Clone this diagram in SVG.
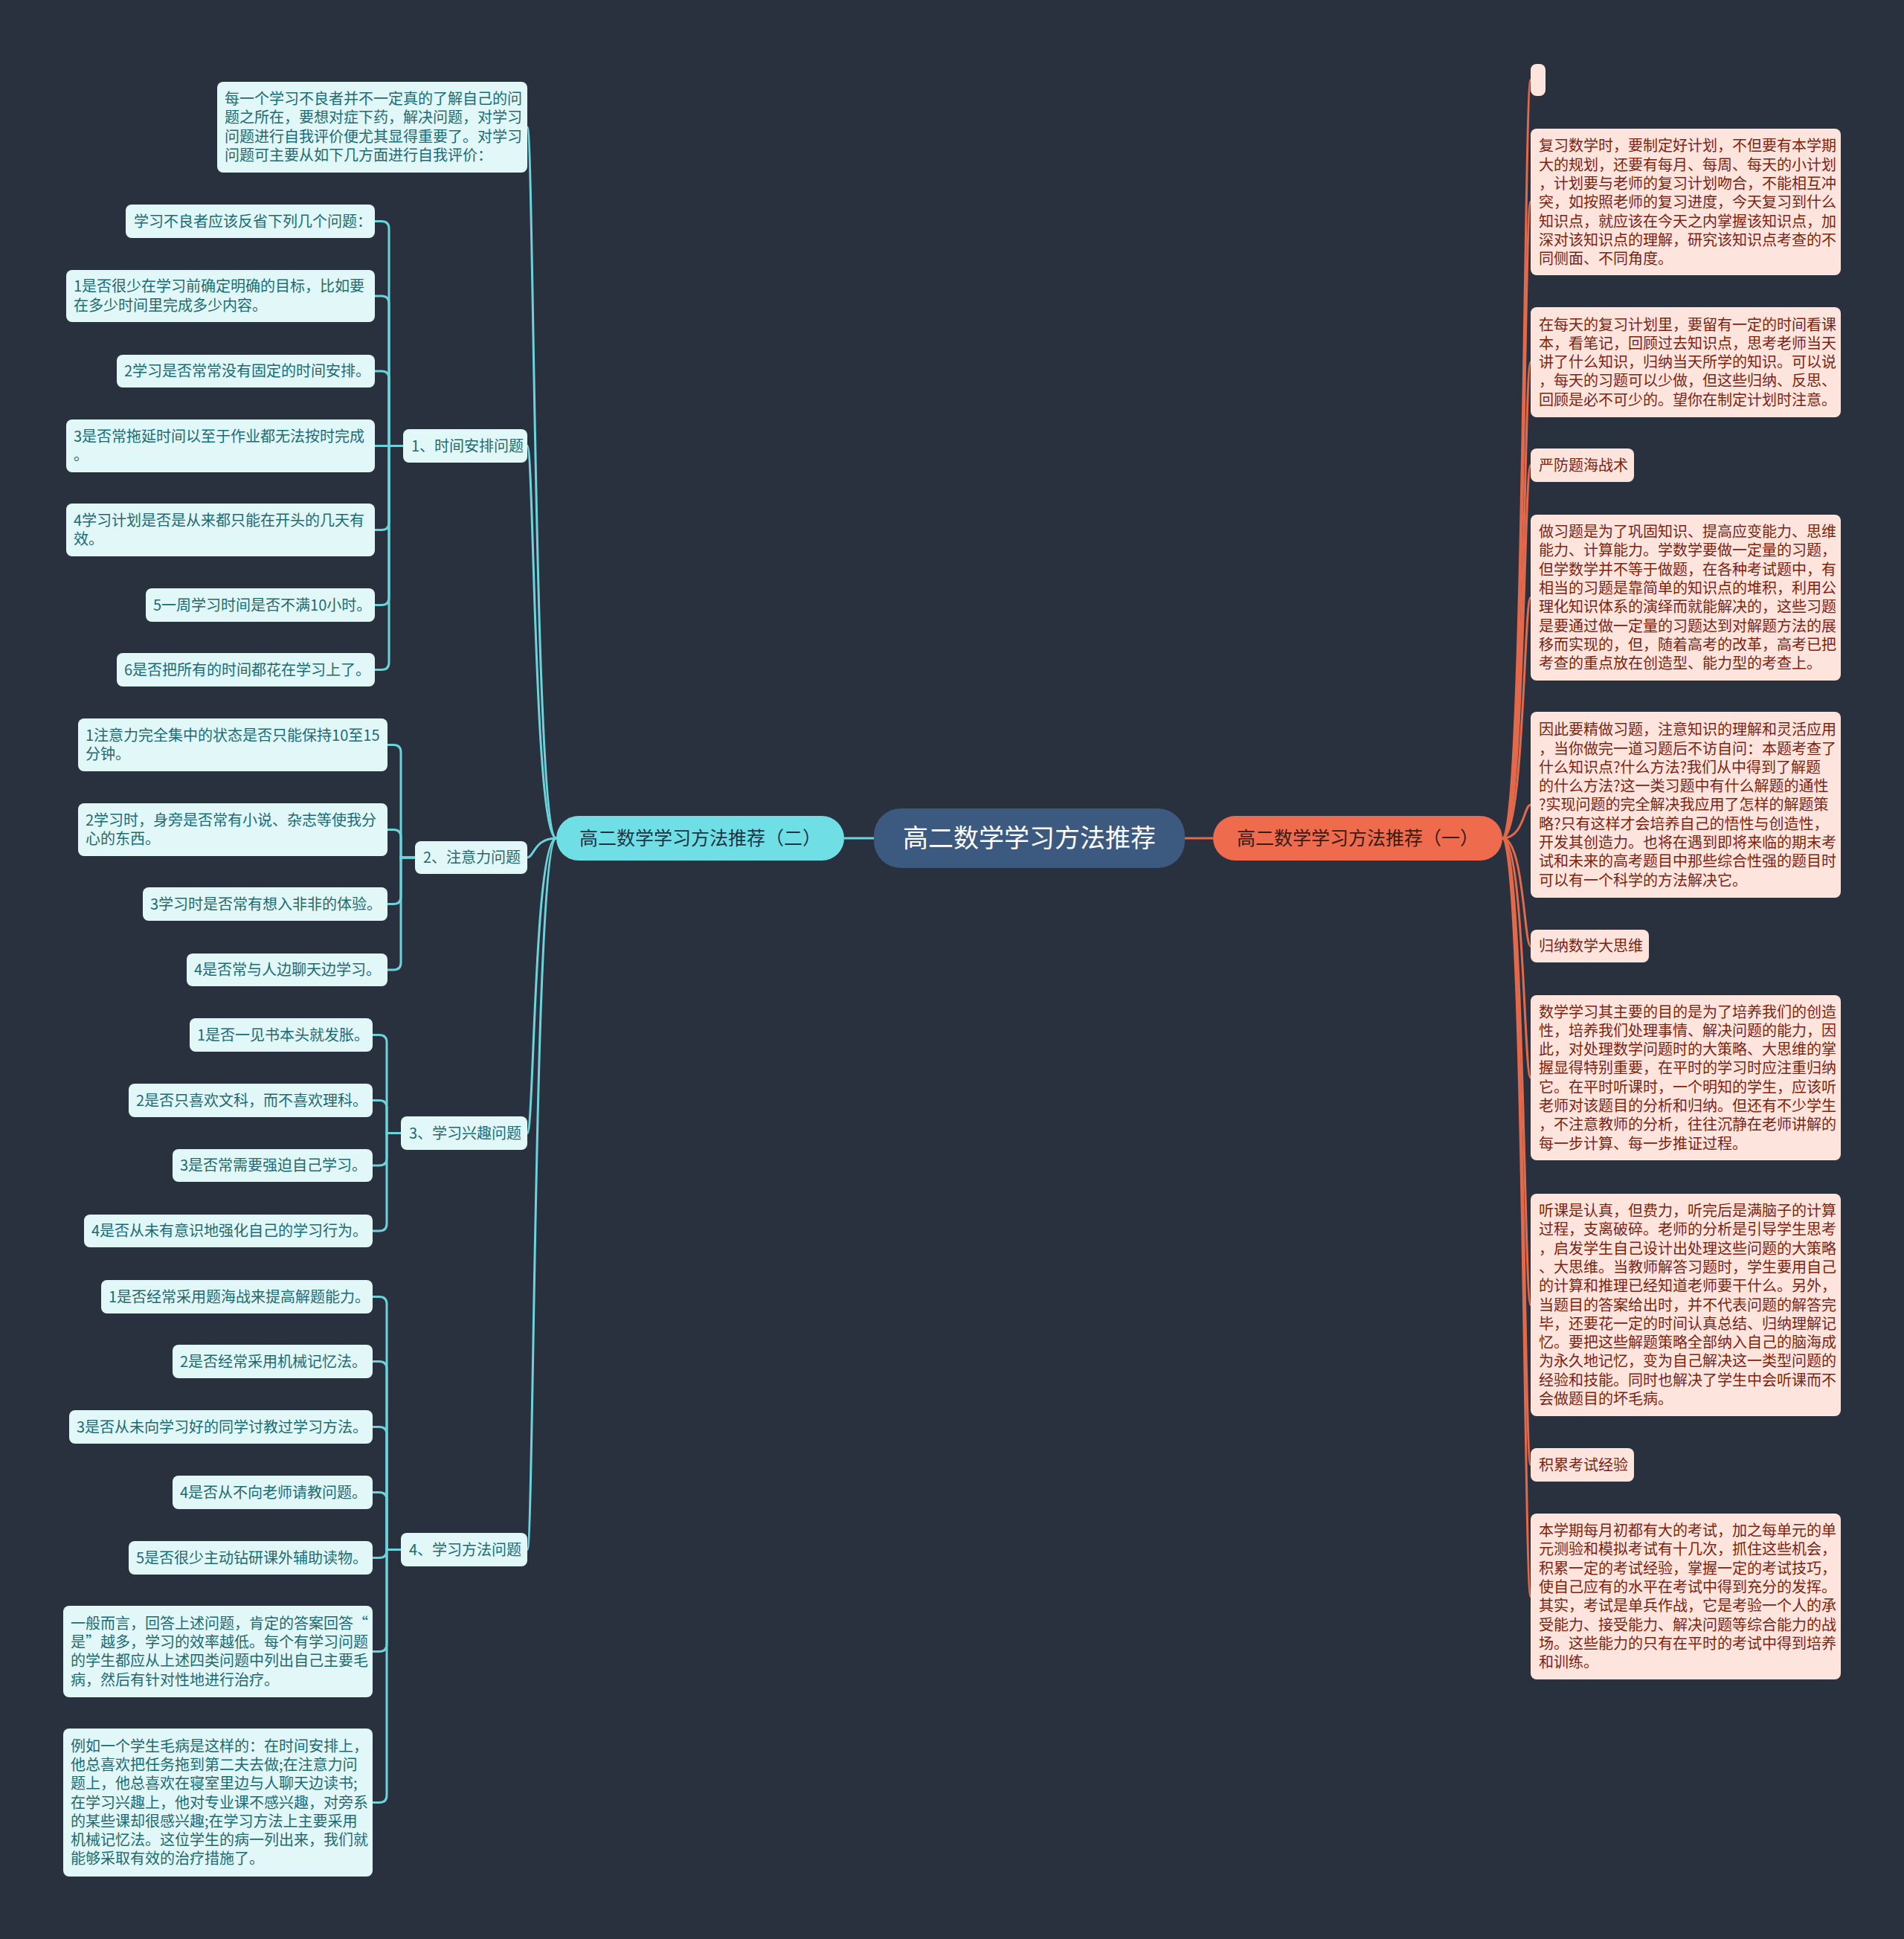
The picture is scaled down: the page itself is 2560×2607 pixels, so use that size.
<svg xmlns="http://www.w3.org/2000/svg" width="2560" height="2607" viewBox="0 0 2560 2607">
<style>
text{font-family:"Noto Sans CJK SC","Noto Sans",sans-serif;}
.lb{fill:#e1f7f8;}
.lt{font-size:20px;fill:#1d6b72;}
.rb{fill:#fde4dd;}
.rt{font-size:20px;fill:#7a2413;}
.cl{fill:none;stroke:#6cd3db;stroke-width:3;}
.cr{fill:none;stroke:#e2694b;stroke-width:3;}
</style>
<rect x="0" y="0" width="2560" height="2607" fill="#29313f"/>
<g id="connectors">
<path class="cl" d="M1135 1127H1175"/>
<path class="cr" d="M1591 1127H1631"/>
<path class="cl" d="M748 1127C718 1127 718 171 709 171"/>
<path class="cl" d="M748 1127C718 1127 718 599.5 709 599.5"/>
<path class="cl" d="M748 1127C718 1127 718 1153 709 1153"/>
<path class="cl" d="M748 1127C718 1127 718 1523.5 709 1523.5"/>
<path class="cl" d="M748 1127C718 1127 718 2083.5 709 2083.5"/>
<path class="cl" d="M542 599.5H523V307.5Q523 297.5 513 297.5H504"/>
<path class="cl" d="M542 599.5H523V408Q523 398 513 398H504"/>
<path class="cl" d="M542 599.5H523V509Q523 499 513 499H504"/>
<path class="cl" d="M542 599.5H504"/>
<path class="cl" d="M542 599.5H523V702.5Q523 712.5 513 712.5H504"/>
<path class="cl" d="M542 599.5H523V803.5Q523 813.5 513 813.5H504"/>
<path class="cl" d="M542 599.5H523V890.5Q523 900.5 513 900.5H504"/>
<path class="cl" d="M558 1153H539V1011.5Q539 1001.5 529 1001.5H521"/>
<path class="cl" d="M558 1153H539V1125.5Q539 1115.5 529 1115.5H521"/>
<path class="cl" d="M558 1153H539V1205.5Q539 1215.5 529 1215.5H521"/>
<path class="cl" d="M558 1153H539V1294Q539 1304 529 1304H521"/>
<path class="cl" d="M539 1523.5H520V1401.5Q520 1391.5 510 1391.5H501"/>
<path class="cl" d="M539 1523.5H520V1489.5Q520 1479.5 510 1479.5H501"/>
<path class="cl" d="M539 1523.5H520V1557Q520 1567 510 1567H501"/>
<path class="cl" d="M539 1523.5H520V1645Q520 1655 510 1655H501"/>
<path class="cl" d="M539 2083.5H520V1753.5Q520 1743.5 510 1743.5H501"/>
<path class="cl" d="M539 2083.5H520V1840.5Q520 1830.5 510 1830.5H501"/>
<path class="cl" d="M539 2083.5H520V1928.5Q520 1918.5 510 1918.5H501"/>
<path class="cl" d="M539 2083.5H520V2016.5Q520 2006.5 510 2006.5H501"/>
<path class="cl" d="M539 2083.5H520V2084.5Q520 2094.5 510 2094.5H501"/>
<path class="cl" d="M539 2083.5H520V2210.5Q520 2220.5 510 2220.5H501"/>
<path class="cl" d="M539 2083.5H520V2413.5Q520 2423.5 510 2423.5H501"/>
<path class="cr" d="M2020 1127C2049 1127 2049 107.5 2058 107.5"/>
<path class="cr" d="M2020 1127C2049 1127 2049 271.5 2058 271.5"/>
<path class="cr" d="M2020 1127C2049 1127 2049 487 2058 487"/>
<path class="cr" d="M2020 1127C2049 1127 2049 625.5 2058 625.5"/>
<path class="cr" d="M2020 1127C2049 1127 2049 803.5 2058 803.5"/>
<path class="cr" d="M2020 1127C2049 1127 2049 1082 2058 1082"/>
<path class="cr" d="M2020 1127C2049 1127 2049 1272 2058 1272"/>
<path class="cr" d="M2020 1127C2049 1127 2049 1449 2058 1449"/>
<path class="cr" d="M2020 1127C2049 1127 2049 1754.5 2058 1754.5"/>
<path class="cr" d="M2020 1127C2049 1127 2049 1969.5 2058 1969.5"/>
<path class="cr" d="M2020 1127C2049 1127 2049 2146.5 2058 2146.5"/>
</g>
<g id="center">
<rect x="1175" y="1087" width="418" height="80" rx="36" fill="#3c5a80"/>
<text x="1384" y="1139" font-size="34" fill="#ffffff" text-anchor="middle">高二数学学习方法推荐</text>
</g>
<g id="main-left">
<rect x="748" y="1097" width="387" height="60" rx="30" fill="#6fdfe5"/>
<text x="941.5" y="1136" font-size="25" fill="#1c3544" text-anchor="middle">高二数学学习方法推荐（二）</text>
</g>
<g id="main-right">
<rect x="1631" y="1097" width="389" height="60" rx="30" fill="#ee6b4d"/>
<text x="1825.5" y="1136" font-size="25" fill="#3a1a12" text-anchor="middle">高二数学学习方法推荐（一）</text>
</g>
<g id="l-intro">
<rect class="lb" x="292" y="110" width="417" height="122" rx="8"/>
<text class="lt" y="140"><tspan x="302">每一个学习不良者并不一定真的了解自己的问</tspan><tspan x="302" dy="25.3">题之所在，要想对症下药，解决问题，对学习</tspan><tspan x="302" dy="25.3">问题进行自我评价便尤其显得重要了。对学习</tspan><tspan x="302" dy="25.3">问题可主要从如下几方面进行自我评价：</tspan></text>
</g>
<g id="s1">
<rect class="lb" x="542" y="577" width="167" height="45" rx="8"/>
<text class="lt" x="553" y="606.5">1、时间安排问题</text>
</g>
<g id="a1">
<rect class="lb" x="169" y="275" width="335" height="45" rx="8"/>
<text class="lt" x="180" y="304.5">学习不良者应该反省下列几个问题：</text>
</g>
<g id="a2">
<rect class="lb" x="89" y="363" width="415" height="70" rx="8"/>
<text class="lt" y="392.4"><tspan x="99">1是否很少在学习前确定明确的目标，比如要</tspan><tspan x="99" dy="25.3">在多少时间里完成多少内容。</tspan></text>
</g>
<g id="a3">
<rect class="lb" x="157" y="477" width="347" height="44" rx="8"/>
<text class="lt" x="167" y="506">2学习是否常常没有固定的时间安排。</text>
</g>
<g id="a4">
<rect class="lb" x="89" y="564" width="415" height="71" rx="8"/>
<text class="lt" y="593.9"><tspan x="99">3是否常拖延时间以至于作业都无法按时完成</tspan><tspan x="99" dy="25.3">。</tspan></text>
</g>
<g id="a5">
<rect class="lb" x="89" y="677" width="415" height="71" rx="8"/>
<text class="lt" y="706.9"><tspan x="99">4学习计划是否是从来都只能在开头的几天有</tspan><tspan x="99" dy="25.3">效。</tspan></text>
</g>
<g id="a6">
<rect class="lb" x="196" y="791" width="308" height="45" rx="8"/>
<text class="lt" x="206" y="820.5">5一周学习时间是否不满10小时。</text>
</g>
<g id="a7">
<rect class="lb" x="157" y="878" width="347" height="45" rx="8"/>
<text class="lt" x="167" y="907.5">6是否把所有的时间都花在学习上了。</text>
</g>
<g id="s2">
<rect class="lb" x="558" y="1131" width="151" height="44" rx="8"/>
<text class="lt" x="569" y="1160">2、注意力问题</text>
</g>
<g id="b1">
<rect class="lb" x="105" y="966" width="416" height="71" rx="8"/>
<text class="lt" y="995.9"><tspan x="115">1注意力完全集中的状态是否只能保持10至15</tspan><tspan x="115" dy="25.3">分钟。</tspan></text>
</g>
<g id="b2">
<rect class="lb" x="105" y="1080" width="416" height="71" rx="8"/>
<text class="lt" y="1109.9"><tspan x="115">2学习时，身旁是否常有小说、杂志等使我分</tspan><tspan x="115" dy="25.3">心的东西。</tspan></text>
</g>
<g id="b3">
<rect class="lb" x="192" y="1193" width="329" height="45" rx="8"/>
<text class="lt" x="202" y="1222.5">3学习时是否常有想入非非的体验。</text>
</g>
<g id="b4">
<rect class="lb" x="251" y="1282" width="270" height="44" rx="8"/>
<text class="lt" x="261" y="1311">4是否常与人边聊天边学习。</text>
</g>
<g id="s3">
<rect class="lb" x="539" y="1501" width="170" height="45" rx="8"/>
<text class="lt" x="550" y="1530.5">3、学习兴趣问题</text>
</g>
<g id="c1">
<rect class="lb" x="255" y="1369" width="246" height="45" rx="8"/>
<text class="lt" x="265" y="1398.5">1是否一见书本头就发胀。</text>
</g>
<g id="c2">
<rect class="lb" x="173" y="1457" width="328" height="45" rx="8"/>
<text class="lt" x="183" y="1486.5">2是否只喜欢文科，而不喜欢理科。</text>
</g>
<g id="c3">
<rect class="lb" x="232" y="1545" width="269" height="44" rx="8"/>
<text class="lt" x="242" y="1574">3是否常需要强迫自己学习。</text>
</g>
<g id="c4">
<rect class="lb" x="113" y="1633" width="388" height="44" rx="8"/>
<text class="lt" x="123" y="1662">4是否从未有意识地强化自己的学习行为。</text>
</g>
<g id="s4">
<rect class="lb" x="539" y="2061" width="170" height="45" rx="8"/>
<text class="lt" x="550" y="2090.5">4、学习方法问题</text>
</g>
<g id="d1">
<rect class="lb" x="136" y="1721" width="365" height="45" rx="8"/>
<text class="lt" x="146" y="1750.5">1是否经常采用题海战来提高解题能力。</text>
</g>
<g id="d2">
<rect class="lb" x="232" y="1808" width="269" height="45" rx="8"/>
<text class="lt" x="242" y="1837.5">2是否经常采用机械记忆法。</text>
</g>
<g id="d3">
<rect class="lb" x="93" y="1896" width="408" height="45" rx="8"/>
<text class="lt" x="103" y="1925.5">3是否从未向学习好的同学讨教过学习方法。</text>
</g>
<g id="d4">
<rect class="lb" x="232" y="1984" width="269" height="45" rx="8"/>
<text class="lt" x="242" y="2013.5">4是否从不向老师请教问题。</text>
</g>
<g id="d5">
<rect class="lb" x="173" y="2072" width="328" height="45" rx="8"/>
<text class="lt" x="183" y="2101.5">5是否很少主动钻研课外辅助读物。</text>
</g>
<g id="d6">
<rect class="lb" x="85" y="2159" width="416" height="123" rx="8"/>
<text class="lt" y="2189.6"><tspan x="95">一般而言，回答上述问题，肯定的答案回答“</tspan><tspan x="95" dy="25.3">是”越多，学习的效率越低。每个有学习问题</tspan><tspan x="95" dy="25.3">的学生都应从上述四类问题中列出自己主要毛</tspan><tspan x="95" dy="25.3">病，然后有针对性地进行治疗。</tspan></text>
</g>
<g id="d7">
<rect class="lb" x="85" y="2324" width="416" height="199" rx="8"/>
<text class="lt" y="2354.6"><tspan x="95">例如一个学生毛病是这样的：在时间安排上，</tspan><tspan x="95" dy="25.3">他总喜欢把任务拖到第二夫去做;在注意力问</tspan><tspan x="95" dy="25.3">题上，他总喜欢在寝室里边与人聊天边读书;</tspan><tspan x="95" dy="25.3">在学习兴趣上，他对专业课不感兴趣，对旁系</tspan><tspan x="95" dy="25.3">的某些课却很感兴趣;在学习方法上主要采用</tspan><tspan x="95" dy="25.3">机械记忆法。这位学生的病一列出来，我们就</tspan><tspan x="95" dy="25.3">能够采取有效的治疗措施了。</tspan></text>
</g>
<g id="r0">
<rect class="rb" x="2058" y="86" width="20" height="43" rx="8"/>
</g>
<g id="r1">
<rect class="rb" x="2058" y="173" width="417" height="197" rx="8"/>
<text class="rt" y="203.3"><tspan x="2069">复习数学时，要制定好计划，不但要有本学期</tspan><tspan x="2069" dy="25.3">大的规划，还要有每月、每周、每天的小计划</tspan><tspan x="2069" dy="25.3">，计划要与老师的复习计划吻合，不能相互冲</tspan><tspan x="2069" dy="25.3">突，如按照老师的复习进度，今天复习到什么</tspan><tspan x="2069" dy="25.3">知识点，就应该在今天之内掌握该知识点，加</tspan><tspan x="2069" dy="25.3">深对该知识点的理解，研究该知识点考查的不</tspan><tspan x="2069" dy="25.3">同侧面、不同角度。</tspan></text>
</g>
<g id="r2">
<rect class="rb" x="2058" y="413" width="417" height="148" rx="8"/>
<text class="rt" y="443.5"><tspan x="2069">在每天的复习计划里，要留有一定的时间看课</tspan><tspan x="2069" dy="25.3">本，看笔记，回顾过去知识点，思考老师当天</tspan><tspan x="2069" dy="25.3">讲了什么知识，归纳当天所学的知识。可以说</tspan><tspan x="2069" dy="25.3">，每天的习题可以少做，但这些归纳、反思、</tspan><tspan x="2069" dy="25.3">回顾是必不可少的。望你在制定计划时注意。</tspan></text>
</g>
<g id="r3">
<rect class="rb" x="2058" y="603" width="139" height="45" rx="8"/>
<text class="rt" x="2069" y="632.5">严防题海战术</text>
</g>
<g id="r4">
<rect class="rb" x="2058" y="692" width="417" height="223" rx="8"/>
<text class="rt" y="722"><tspan x="2069">做习题是为了巩固知识、提高应变能力、思维</tspan><tspan x="2069" dy="25.3">能力、计算能力。学数学要做一定量的习题，</tspan><tspan x="2069" dy="25.3">但学数学并不等于做题，在各种考试题中，有</tspan><tspan x="2069" dy="25.3">相当的习题是靠简单的知识点的堆积，利用公</tspan><tspan x="2069" dy="25.3">理化知识体系的演绎而就能解决的，这些习题</tspan><tspan x="2069" dy="25.3">是要通过做一定量的习题达到对解题方法的展</tspan><tspan x="2069" dy="25.3">移而实现的，但，随着高考的改革，高考已把</tspan><tspan x="2069" dy="25.3">考查的重点放在创造型、能力型的考查上。</tspan></text>
</g>
<g id="r5">
<rect class="rb" x="2058" y="957" width="417" height="250" rx="8"/>
<text class="rt" y="988.2"><tspan x="2069">因此要精做习题，注意知识的理解和灵活应用</tspan><tspan x="2069" dy="25.3">，当你做完一道习题后不访自问：本题考查了</tspan><tspan x="2069" dy="25.3">什么知识点?什么方法?我们从中得到了解题</tspan><tspan x="2069" dy="25.3">的什么方法?这一类习题中有什么解题的通性</tspan><tspan x="2069" dy="25.3">?实现问题的完全解决我应用了怎样的解题策</tspan><tspan x="2069" dy="25.3">略?只有这样才会培养自己的悟性与创造性，</tspan><tspan x="2069" dy="25.3">开发其创造力。也将在遇到即将来临的期末考</tspan><tspan x="2069" dy="25.3">试和未来的高考题目中那些综合性强的题目时</tspan><tspan x="2069" dy="25.3">可以有一个科学的方法解决它。</tspan></text>
</g>
<g id="r6">
<rect class="rb" x="2058" y="1250" width="159" height="44" rx="8"/>
<text class="rt" x="2069" y="1279">归纳数学大思维</text>
</g>
<g id="r7">
<rect class="rb" x="2058" y="1338" width="417" height="222" rx="8"/>
<text class="rt" y="1367.5"><tspan x="2069">数学学习其主要的目的是为了培养我们的创造</tspan><tspan x="2069" dy="25.3">性，培养我们处理事情、解决问题的能力，因</tspan><tspan x="2069" dy="25.3">此，对处理数学问题时的大策略、大思维的掌</tspan><tspan x="2069" dy="25.3">握显得特别重要，在平时的学习时应注重归纳</tspan><tspan x="2069" dy="25.3">它。在平时听课时，一个明知的学生，应该听</tspan><tspan x="2069" dy="25.3">老师对该题目的分析和归纳。但还有不少学生</tspan><tspan x="2069" dy="25.3">，不注意教师的分析，往往沉静在老师讲解的</tspan><tspan x="2069" dy="25.3">每一步计算、每一步推证过程。</tspan></text>
</g>
<g id="r8">
<rect class="rb" x="2058" y="1605" width="417" height="299" rx="8"/>
<text class="rt" y="1635"><tspan x="2069">听课是认真，但费力，听完后是满脑子的计算</tspan><tspan x="2069" dy="25.3">过程，支离破碎。老师的分析是引导学生思考</tspan><tspan x="2069" dy="25.3">，启发学生自己设计出处理这些问题的大策略</tspan><tspan x="2069" dy="25.3">、大思维。当教师解答习题时，学生要用自己</tspan><tspan x="2069" dy="25.3">的计算和推理已经知道老师要干什么。另外，</tspan><tspan x="2069" dy="25.3">当题目的答案给出时，并不代表问题的解答完</tspan><tspan x="2069" dy="25.3">毕，还要花一定的时间认真总结、归纳理解记</tspan><tspan x="2069" dy="25.3">忆。要把这些解题策略全部纳入自己的脑海成</tspan><tspan x="2069" dy="25.3">为永久地记忆，变为自己解决这一类型问题的</tspan><tspan x="2069" dy="25.3">经验和技能。同时也解决了学生中会听课而不</tspan><tspan x="2069" dy="25.3">会做题目的坏毛病。</tspan></text>
</g>
<g id="r9">
<rect class="rb" x="2058" y="1947" width="139" height="45" rx="8"/>
<text class="rt" x="2069" y="1976.5">积累考试经验</text>
</g>
<g id="r10">
<rect class="rb" x="2058" y="2035" width="417" height="223" rx="8"/>
<text class="rt" y="2065"><tspan x="2069">本学期每月初都有大的考试，加之每单元的单</tspan><tspan x="2069" dy="25.3">元测验和模拟考试有十几次，抓住这些机会，</tspan><tspan x="2069" dy="25.3">积累一定的考试经验，掌握一定的考试技巧，</tspan><tspan x="2069" dy="25.3">使自己应有的水平在考试中得到充分的发挥。</tspan><tspan x="2069" dy="25.3">其实，考试是单兵作战，它是考验一个人的承</tspan><tspan x="2069" dy="25.3">受能力、接受能力、解决问题等综合能力的战</tspan><tspan x="2069" dy="25.3">场。这些能力的只有在平时的考试中得到培养</tspan><tspan x="2069" dy="25.3">和训练。</tspan></text>
</g>
</svg>
